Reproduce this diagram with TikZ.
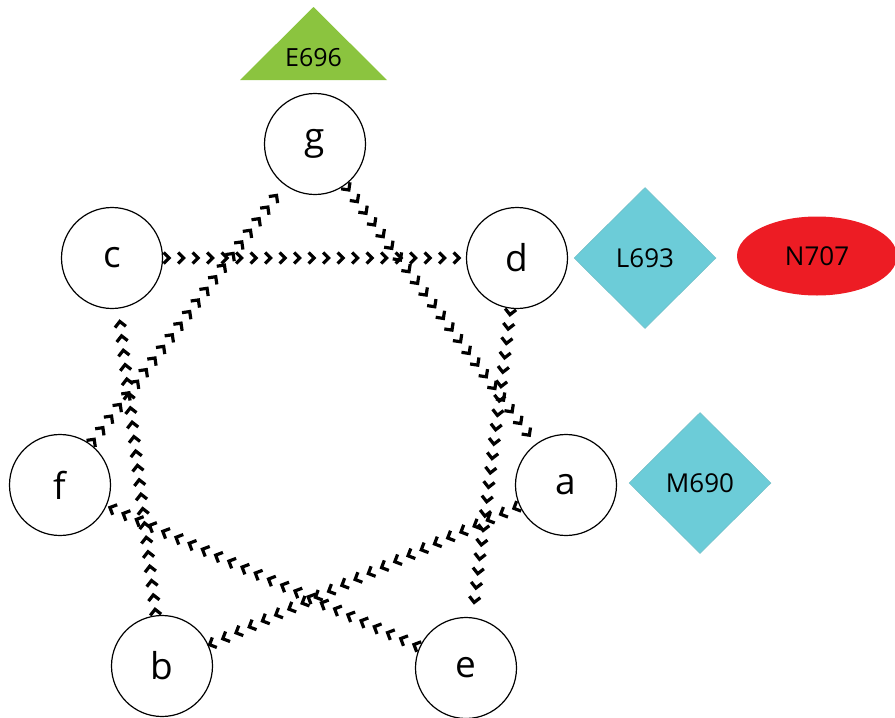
\documentclass[tikz,border=0pt]{standalone}
\usepackage{fontspec}
\setmainfont{Open Sans}
\usetikzlibrary{shapes.geometric,decorations.markings}
\definecolor{tgreen}{RGB}{139,196,63}
\definecolor{tcyan}{RGB}{108,204,216}
\definecolor{tred}{RGB}{237,28,36}
\tikzset{
  circ/.style={circle,draw=black,line width=1.2pt,fill=white,minimum size=101pt,inner sep=0pt,font=\fontsize{37}{37}\selectfont},
  dia/.style={diamond,fill=tcyan,draw=tcyan!80!gray,line width=0.5pt,minimum width=142pt,minimum height=141pt,inner sep=0pt,font=\fontsize{26}{26}\selectfont},
  chev/.style={decoration={markings,
     mark=between positions 6pt and -1pt step 14.5pt with {\draw[black,line width=3.2pt,line join=miter,line cap=butt] (-5.5pt,-5.5pt) -- (0pt,0pt) -- (-5.5pt,5.5pt);}},
     decorate}
}
\begin{document}
\begin{tikzpicture}[x=1pt,y=-1pt]
\useasboundingbox (0,0) rectangle (895,718);
% nodes
\node[circ] (g) at (315,144) {g};
\node[circ] (c) at (112,258) {c};
\node[circ] (d) at (517,258) {d};
\node[circ] (f) at (60,485) {f};
\node[circ] (a) at (566,485) {a};
\node[circ] (b) at (162,666) {b};
\node[circ] (e) at (466,668) {e};
% other shapes
\fill[tgreen] (240,80) -- (313.5,7) -- (387,80) -- cycle;
\node[font=\fontsize{25}{25}\selectfont,inner sep=0pt] (E) at (313.5,58) {E696};
\node[dia] (L) at (645,258) {L693};
\node[dia] (M) at (700,483) {M690};
\node[ellipse,fill=tred,minimum width=160pt,minimum height=79pt,inner sep=0pt,font=\fontsize{26}{26}\selectfont] (N) at (817,256) {N707};
% connectors
\path[chev] (c) -- (d);
\path[chev] (f) -- (g);
\path[chev] (g) -- (a);
\path[chev] (b) -- (c);
\path[chev] (d) -- (e);
\path[chev] (e) -- (f);
\path[chev] (a) -- (b);
\end{tikzpicture}
\end{document}
